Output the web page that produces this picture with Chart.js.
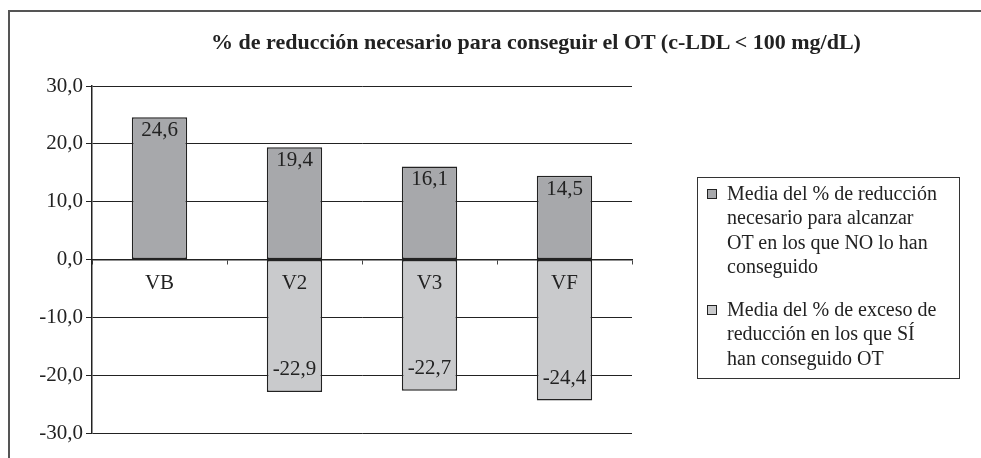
<!DOCTYPE html>
<html>
<head>
<meta charset="utf-8">
<script src="https://cdn.jsdelivr.net/npm/chart.js@4/dist/chart.umd.min.js"></script>
<style>
  html, body { margin: 0; padding: 0; background: #fff; width: 981px; height: 458px; overflow: hidden; }
  #frame { position: absolute; left: 8px; top: 10px; width: 1200px; height: 600px; border-left: 2px solid #555; border-top: 2px solid #555; }
  #title { position: absolute; left: 136px; width: 800px; top: 29px; text-align: center; font: bold 22px "Liberation Serif", "DejaVu Serif", serif; color: #222; white-space: nowrap; }
  #chart { position: absolute; left: 0; top: 0; }
  #legend { position: absolute; left: 697px; top: 177px; width: 263px; height: 202px; border: 1px solid #333; box-sizing: border-box; font: 20px "Liberation Serif", serif; color: #222; line-height: 24.3px; }
  .item { position: absolute; left: 29px; width: 214px; }
  .sw { position: absolute; left: -20px; top: 8px; width: 8px; height: 8px; border: 1px solid #222; }
</style>
</head>
<body>
<div id="frame"></div>
<canvas id="chart" width="981" height="458"></canvas>
<div id="title">% de reducción necesario para conseguir el OT (c-LDL &lt; 100 mg/dL)</div>
<div id="legend"></div>
<script>
const categories = ["VB", "V2", "V3", "VF"];
const seriesNames = [
  "Media del % de reducción necesario para alcanzar OT en los que NO lo han conseguido",
  "Media del % de exceso de reducción en los que SÍ han conseguido OT"
];
const notAchieved = [24.6, 19.4, 16.1, 14.5];
const achievedExcess = [null, -22.9, -22.7, -24.4];
const yTicks = [-30, -20, -10, 0, 10, 20, 30];
const colors = ["#a7a8ab", "#c9cacc"];

const fmt = v => v.toFixed(1).replace('.', ',');

const labelPlugin = {
  id: 'barLabels',
  afterDatasetsDraw(chart) {
    const ctx = chart.ctx;
    ctx.save();
    ctx.font = '21px "Liberation Serif", serif';
    ctx.fillStyle = '#222';
    ctx.textAlign = 'center';
    chart.data.datasets.forEach((ds, di) => {
      const meta = chart.getDatasetMeta(di);
      meta.data.forEach((bar, i) => {
        const v = ds.data[i];
        if (v === null || v === undefined) return;
        if (v >= 0) {
          ctx.textBaseline = 'top';
          ctx.fillText(fmt(v), bar.x, bar.y + 3);
        } else {
          ctx.textBaseline = 'middle';
          ctx.fillText(fmt(v), bar.x, bar.y - 22);
        }
      });
    });
    ctx.restore();
  }
};

new Chart(document.getElementById('chart'), {
  type: 'bar',
  data: {
    labels: categories,
    datasets: [
      { label: seriesNames[0], data: notAchieved, backgroundColor: colors[0], borderColor: '#222', borderWidth: 1.5, borderSkipped: false, barPercentage: 0.82, categoryPercentage: 0.5 },
      { label: seriesNames[1], data: achievedExcess, backgroundColor: colors[1], borderColor: '#222', borderWidth: 1.5, borderSkipped: false, barPercentage: 0.82, categoryPercentage: 0.5 }
    ]
  },
  options: {
    responsive: false,
    animation: false,
    events: [],
    layout: { padding: { left: 0, right: 349, top: 86, bottom: 25 } },
    plugins: { legend: { display: false }, tooltip: { enabled: false }, title: { display: false } },
    scales: {
      x: {
        stacked: true,
        position: { y: 0 },
        grid: { display: true, offset: true, drawOnChartArea: false, drawTicks: true, tickLength: 4, color: '#444', lineWidth: 1 },
        border: { display: true, color: '#222', width: 1.5, z: 1 },
        ticks: { z: 1, padding: 7, color: '#222', font: { family: '"Liberation Serif", serif', size: 21 } }
      },
      y: {
        stacked: true,
        min: yTicks[0], max: yTicks[yTicks.length - 1],
        afterBuildTicks(scale) { scale.ticks = yTicks.map(v => ({ value: v })); },
        afterFit(scale) { scale.width = 92; },
        grid: { color: '#222', lineWidth: 1, drawTicks: true, tickLength: 6 },
        border: { display: true, color: '#222', width: 1.5 },
        ticks: { padding: 3, color: '#222', font: { family: '"Liberation Serif", serif', size: 21 }, callback: v => fmt(v) }
      }
    }
  },
  plugins: [labelPlugin]
});

const legend = document.getElementById('legend');
const tops = [3, 119];
seriesNames.forEach((name, i) => {
  const d = document.createElement('div');
  d.className = 'item';
  d.style.top = tops[i] + 'px';
  const sw = document.createElement('span');
  sw.className = 'sw';
  sw.style.background = colors[i];
  d.appendChild(sw);
  d.appendChild(document.createTextNode(name));
  legend.appendChild(d);
});
</script>
</body>
</html>
